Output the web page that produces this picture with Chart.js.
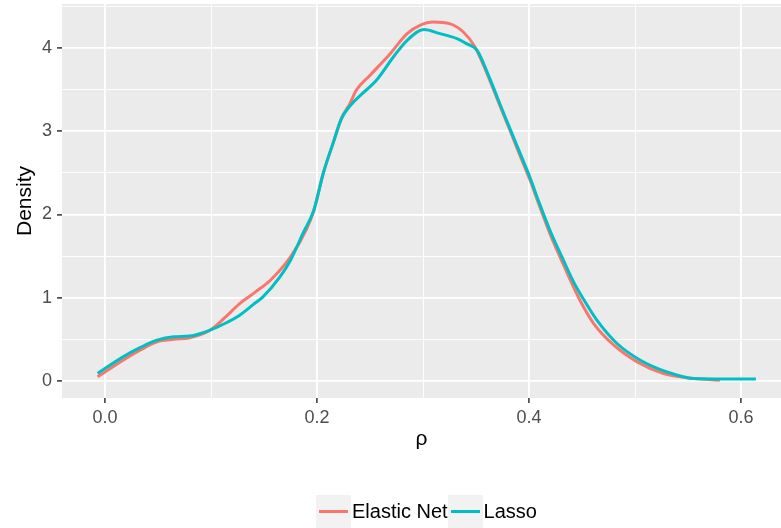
<!DOCTYPE html>
<html>
<head>
<meta charset="utf-8">
<script src="https://cdn.jsdelivr.net/npm/chart.js@4/dist/chart.umd.min.js"></script>
<style>
    body { margin: 0; background: #fff; }
    #wrap { position: relative; width: 781px; height: 528px; }
    #legend {
        position: absolute; left: 316px; top: 495px; height: 33px;
        display: flex; align-items: center;
        font-family: "Liberation Sans", Arial, sans-serif; font-size: 20px; color: #000;
    }
    .key { width: 35px; height: 33px; background: #F2F2F2; position: relative; }
    .key span { position: absolute; left: 3px; right: 3px; top: 15px; height: 3px; }
    .lbl { margin-left: 1px; }
</style>
</head>
<body>
<div id="wrap">
    <canvas id="chart" width="781" height="528"></canvas>
    <div id="legend">
        <div class="key"><span style="background:#F8766D"></span></div><div class="lbl">Elastic Net</div>
        <div class="key"><span style="background:#00BFC4"></span></div><div class="lbl">Lasso</div>
    </div>
</div>
<script>
// Density estimates
const elasticX = [-0.007, 0.017, 0.033, 0.049, 0.065, 0.080, 0.099, 0.113, 0.127, 0.142, 0.156, 0.175, 0.190, 0.197, 0.206, 0.215, 0.223, 0.231, 0.237, 0.250, 0.269, 0.285, 0.297, 0.310, 0.325, 0.338, 0.349, 0.363, 0.373, 0.382, 0.392, 0.401, 0.409, 0.420, 0.431, 0.439, 0.448, 0.461, 0.480, 0.502, 0.527, 0.549, 0.580];
const elasticY = [0.05, 0.25, 0.37, 0.47, 0.50, 0.52, 0.61, 0.76, 0.93, 1.07, 1.21, 1.49, 1.82, 2.05, 2.50, 2.85, 3.15, 3.33, 3.49, 3.67, 3.93, 4.17, 4.27, 4.31, 4.29, 4.19, 4.01, 3.61, 3.29, 3.01, 2.69, 2.41, 2.13, 1.76, 1.44, 1.21, 0.97, 0.69, 0.43, 0.23, 0.09, 0.04, 0.01];

const lassoX = [-0.007, 0.017, 0.033, 0.049, 0.065, 0.080, 0.099, 0.113, 0.127, 0.140, 0.149, 0.165, 0.175, 0.187, 0.197, 0.206, 0.215, 0.223, 0.231, 0.241, 0.256, 0.272, 0.285, 0.301, 0.316, 0.332, 0.341, 0.351, 0.363, 0.373, 0.382, 0.392, 0.401, 0.409, 0.420, 0.431, 0.442, 0.451, 0.464, 0.483, 0.505, 0.530, 0.555, 0.585, 0.614];
const lassoY = [0.09, 0.29, 0.40, 0.49, 0.53, 0.54, 0.61, 0.69, 0.79, 0.92, 1.01, 1.25, 1.45, 1.78, 2.05, 2.50, 2.85, 3.15, 3.30, 3.43, 3.61, 3.89, 4.09, 4.22, 4.17, 4.11, 4.05, 3.97, 3.63, 3.31, 3.03, 2.72, 2.44, 2.16, 1.80, 1.49, 1.19, 0.99, 0.73, 0.45, 0.25, 0.11, 0.03, 0.025, 0.025];

// Axis ticks (major + minor grid)
const xTicks = [0, 0.1, 0.2, 0.3, 0.4, 0.5, 0.6];
const yTicks = [0, 0.5, 1, 1.5, 2, 2.5, 3, 3.5, 4, 4.5];

const toPoints = (xs, ys) => xs.map((x, i) => ({ x: x, y: ys[i] }));

const isMajorX = v => Math.round(v * 10) % 2 === 0;
const isMajorY = v => Number.isInteger(v);

// ggplot-like grey panel
const panelBg = {
    id: 'panelBg',
    beforeDraw(chart) {
        const { ctx, chartArea: a } = chart;
        ctx.save();
        ctx.fillStyle = '#EBEBEB';
        ctx.fillRect(a.left, a.top, a.right - a.left, a.bottom - a.top);
        ctx.restore();
    }
};

const tickFont = { family: '"Liberation Sans", Arial, sans-serif', size: 18 };
const titleFont = { family: '"Liberation Sans", Arial, sans-serif', size: 21 };

new Chart(document.getElementById('chart').getContext('2d'), {
    type: 'line',
    data: {
        datasets: [{
            label: 'Lasso',
            data: toPoints(lassoX, lassoY),
            borderColor: '#00BFC4',
            borderWidth: 3,
            pointRadius: 0,
            cubicInterpolationMode: 'monotone',
            order: 0
        }, {
            label: 'Elastic Net',
            data: toPoints(elasticX, elasticY),
            borderColor: '#F8766D',
            borderWidth: 3,
            pointRadius: 0,
            cubicInterpolationMode: 'monotone',
            order: 1
        }]
    },
    options: {
        responsive: false,
        animation: false,
        layout: { padding: { top: 4, right: 0, bottom: 70, left: 0 } },
        plugins: { legend: { display: false }, tooltip: { enabled: false } },
        scales: {
            x: {
                type: 'linear',
                min: -0.0406,
                max: 0.6377,
                afterBuildTicks: axis => { axis.ticks = xTicks.map(v => ({ value: v })); },
                afterFit: scale => {
                    scale.height = 60;
                    scale.paddingLeft = 0;
                    scale.paddingRight = 0;
                },
                border: { display: false },
                grid: {
                    color: '#FFFFFF',
                    lineWidth: ctx => isMajorX(ctx.tick.value) ? 1.8 : 0.9,
                    tickColor: ctx => isMajorX(ctx.tick.value) ? '#333333' : 'rgba(0,0,0,0)',
                    tickWidth: 1.5,
                    tickLength: 5
                },
                ticks: {
                    font: tickFont,
                    color: '#4D4D4D',
                    padding: 4,
                    maxRotation: 0,
                    autoSkip: false,
                    callback: v => isMajorX(v) ? v.toFixed(1) : ''
                },
                title: { display: true, text: 'ρ', font: titleFont, color: '#000', padding: { top: 0, bottom: 6 } }
            },
            y: {
                min: -0.204,
                max: 4.526,
                afterBuildTicks: axis => { axis.ticks = yTicks.map(v => ({ value: v })); },
                afterFit: scale => {
                    scale.width = 62;
                    scale.paddingTop = 0;
                    scale.paddingBottom = 0;
                },
                border: { display: false },
                grid: {
                    color: '#FFFFFF',
                    lineWidth: ctx => isMajorY(ctx.tick.value) ? 1.8 : 0.9,
                    tickColor: ctx => isMajorY(ctx.tick.value) ? '#333333' : 'rgba(0,0,0,0)',
                    tickWidth: 1.5,
                    tickLength: 5
                },
                ticks: {
                    font: tickFont,
                    color: '#4D4D4D',
                    padding: 5,
                    autoSkip: false,
                    callback: v => isMajorY(v) ? String(v) : ''
                },
                title: { display: true, text: 'Density', font: titleFont, color: '#000', padding: { top: 13, bottom: 0 } }
            }
        }
    },
    plugins: [panelBg]
});
</script>
</body>
</html>
